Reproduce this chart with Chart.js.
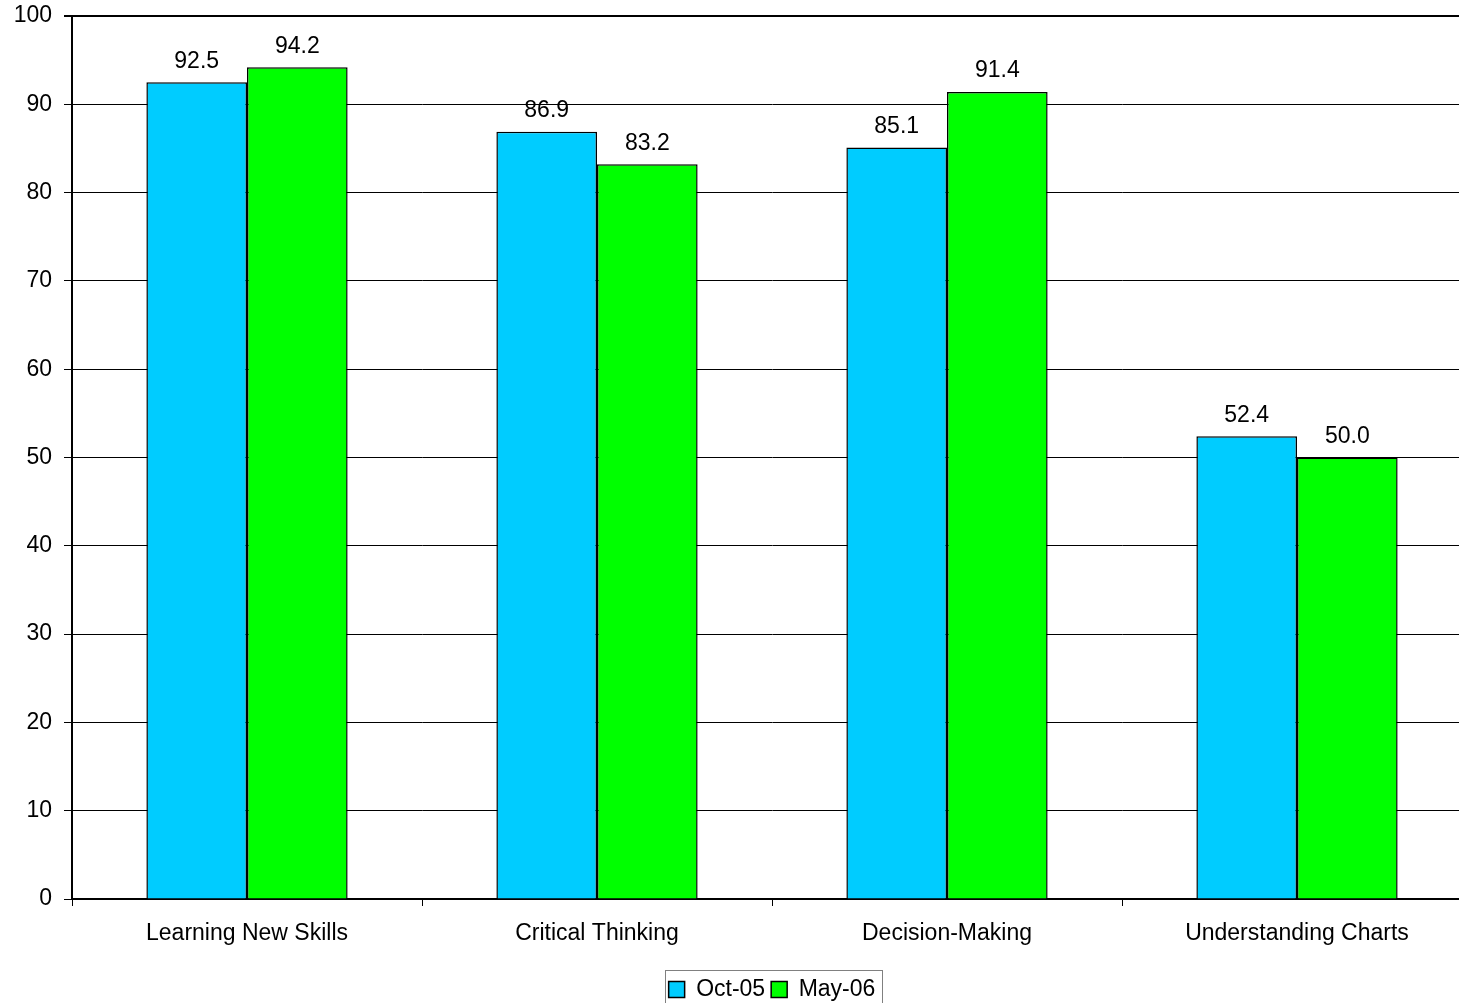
<!DOCTYPE html>
<html>
<head>
<meta charset="utf-8">
<script src="https://cdn.jsdelivr.net/npm/chart.js@4/dist/chart.umd.min.js"></script>
<style>
html,body{margin:0;padding:0;background:#fff;overflow:hidden;}
#wrap{width:1480px;height:1003px;position:relative;}
</style>
</head>
<body>
<div id="wrap"><canvas id="c"></canvas></div>
<script>
const categories = ["Learning New Skills", "Critical Thinking", "Decision-Making", "Understanding Charts"];
const seriesNames = ["Oct-05", "May-06"];
const oct05 = [92.5, 86.9, 85.1, 52.4];
const may06 = [94.2, 83.2, 91.4, 50.0];
const yTicks = [0, 10, 20, 30, 40, 50, 60, 70, 80, 90, 100];

const FONT = "'Liberation Sans', Arial, sans-serif";
const FS = 23;

const dataLabels = {
  id: 'dataLabels',
  afterDatasetsDraw(chart) {
    const ctx = chart.ctx;
    ctx.save();
    ctx.font = FS + "px " + FONT;
    ctx.fillStyle = '#000';
    ctx.textAlign = 'center';
    ctx.textBaseline = 'middle';
    chart.data.datasets.forEach((ds, i) => {
      chart.getDatasetMeta(i).data.forEach((el, j) => {
        ctx.fillText(ds.data[j].toFixed(1), el.x, el.y - 21);
      });
    });
    ctx.restore();
  }
};

const legendBorder = {
  id: 'legendBorder',
  afterDraw(chart) {
    const lg = chart.legend;
    if (!lg || !lg.legendHitBoxes || !lg.legendHitBoxes.length) return;
    const hb = lg.legendHitBoxes;
    let l = Infinity, r = -Infinity, t = Infinity, b = -Infinity;
    hb.forEach(h => { l = Math.min(l, h.left); r = Math.max(r, h.left + h.width); t = Math.min(t, h.top); b = Math.max(b, h.top + h.height); });
    const ctx = chart.ctx;
    ctx.save();
    ctx.strokeStyle = '#808080';
    ctx.lineWidth = 1;
    ctx.strokeRect(Math.round(l - 4) + 0.5, Math.round(t - 8) + 0.5, Math.round(r - l + 10), Math.round(b - t + 40));
    ctx.restore();
  }
};

new Chart(document.getElementById('c'), {
  type: 'bar',
  data: {
    labels: categories,
    datasets: [
      { label: seriesNames[0], data: oct05, backgroundColor: '#00CCFF', borderColor: '#000', borderWidth: 1.5 },
      { label: seriesNames[1], data: may06, backgroundColor: '#00FF00', borderColor: '#000', borderWidth: 1.5 }
    ]
  },
  options: {
    responsive: true,
    maintainAspectRatio: false,
    animation: false,
    devicePixelRatio: 1,
    layout: { padding: { top: 16, right: 8, left: 0, bottom: -8 } },
    datasets: { bar: { categoryPercentage: 0.575, barPercentage: 1.0 } },
    plugins: {
      tooltip: { enabled: false },
      legend: {
        position: 'bottom',
        fullSize: false,
        labels: {
          font: { size: FS, family: FONT },
          color: '#000',
          boxWidth: 16,
          boxHeight: 16,
          padding: 6,
          generateLabels(chart) {
            return chart.data.datasets.map((ds, i) => ({
              text: ds.label, fillStyle: ds.backgroundColor, strokeStyle: '#000', lineWidth: 1.5, datasetIndex: i, hidden: false
            }));
          }
        }
      }
    },
    scales: {
      x: {
        grid: { drawOnChartArea: false, drawTicks: true, tickLength: 7, color: '#000', offset: true },
        border: { color: '#000', width: 2 },
        ticks: { font: { size: FS, family: FONT }, color: '#000', padding: 14 },
        afterFit(s) { s.height = 73; s.paddingLeft = 0; s.paddingRight = 0; }
      },
      y: {
        min: 0, max: 100,
        afterBuildTicks(s) { s.ticks = yTicks.map(v => ({ value: v })); },
        grid: { color: '#000', lineWidth: (c) => (c.tick && c.tick.value === 100 ? 2 : 1), tickLength: 8 },
        border: { color: '#000', width: 2 },
        ticks: { font: { size: FS, family: FONT }, color: '#000', padding: 12 },
        afterFit(s) { s.width = 72; s.paddingTop = 0; s.paddingBottom = 0; }
      }
    }
  },
  plugins: [dataLabels, legendBorder]
});
</script>
</body>
</html>
